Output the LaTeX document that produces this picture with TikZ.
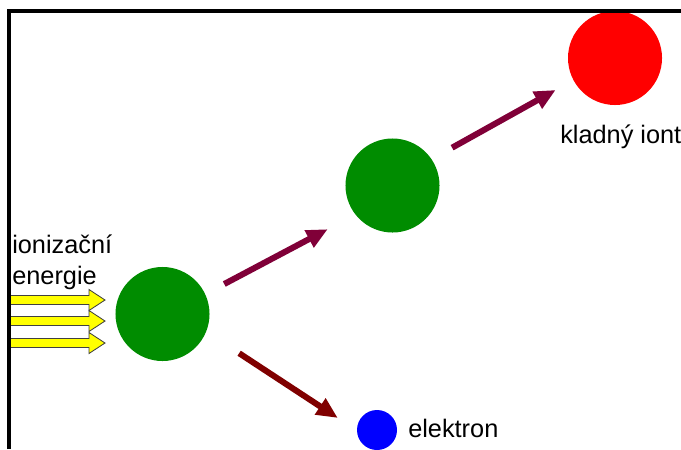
\documentclass[tikz,border=0pt]{standalone}
\usepackage{fontspec}
\setmainfont{Liberation Sans}
\usepackage{tikz}
\usetikzlibrary{arrows.meta, positioning}
\definecolor{atomgreen}{RGB}{0,140,0}
\definecolor{ionred}{RGB}{255,0,0}
\definecolor{electronblue}{RGB}{0,0,255}
\definecolor{pathmaroon}{RGB}{128,0,56}
\definecolor{kickmaroon}{RGB}{128,0,0}
\definecolor{energyyellow}{RGB}{255,255,0}

\begin{document}
\begin{tikzpicture}[
    x=0.025cm, y=-0.025cm,
    every node/.style={font=\fontsize{18}{21}\selectfont},
    particle/.style={circle, fill=#1, inner sep=0pt, minimum size=2.35cm},
    caption/.style={anchor=base west, inner sep=0pt},
    arrow/.style={-{Triangle[length=15pt, width=13pt]}, line width=4.3pt, draw=#1},
    energy/.style={fill=energyyellow, draw=black!75, line width=0.6pt, line join=miter},
    frame/.style={line width=2.4pt, line join=miter}
]

\useasboundingbox (0,0) rectangle (681,449);

\node[particle=atomgreen] (atom) at (162.5,314) {};
\node[particle=atomgreen] (excited) at (392.5,185.5) {};
\node[particle=ionred] (ion) at (615,58) {};
\node[particle=electronblue, minimum size=1cm] (electron) at (377,430) {};

\node[caption] (ionlabel) at (560,143) {kladný iont};
\node[caption] (electronlabel) at (408,437) {elektron};
\node[caption] (energylabel) at (12,253) {ionizační};
\node[caption] (energylabel2) at (12,284) {energie};

\draw[arrow=pathmaroon, shorten <=15.2pt, shorten >=22.1pt] (atom.25) -- (excited.-142);
\draw[arrow=pathmaroon, shorten <=16.6pt, shorten >=14.3pt] (excited.34) -- (ion.-152);
\draw[arrow=kickmaroon, shorten <=27.9pt, shorten >=16.1pt] (atom.-22) -- (electron.181);

\foreach \y in {300,321,343}
  \path[energy] (10,\y-4.5) -- (89,\y-4.5) -- (89,\y-10.5) -- (105,\y) -- (89,\y+10.5) -- (89,\y+4.5) -- (10,\y+4.5) -- cycle;

\draw[frame] (9,449) -- (9,11) -- (681,11);

\end{tikzpicture}
\end{document}
